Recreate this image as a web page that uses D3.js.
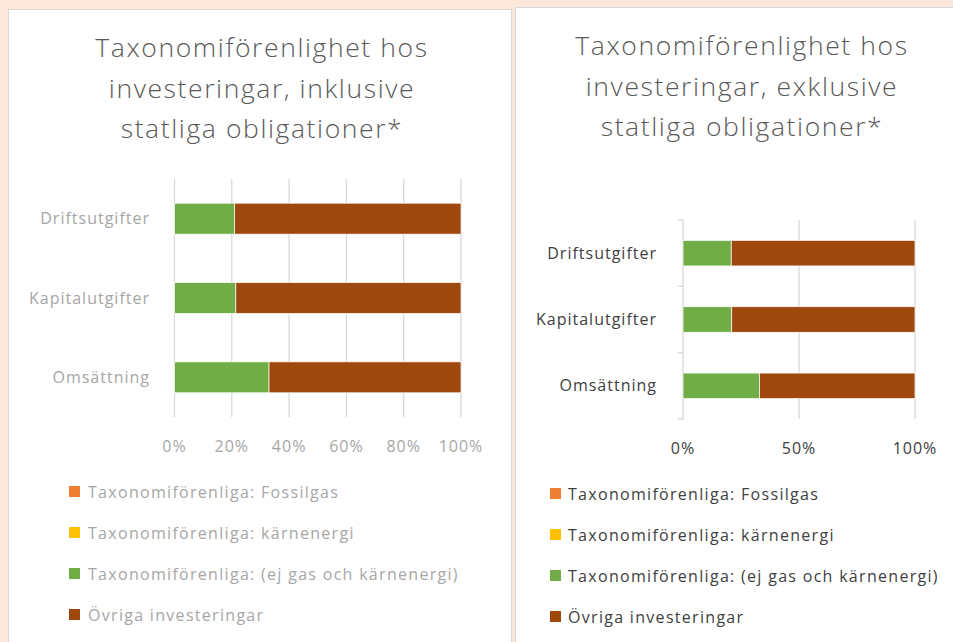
<!DOCTYPE html>
<html>
<head>
<meta charset="utf-8">
<script src="https://cdn.jsdelivr.net/npm/d3@7"></script>
<style>
  body { margin: 0; background: #fce8da; }
  svg { display: block; font-family: "Open Sans", sans-serif; }
</style>
</head>
<body>
<div id="wrapper"></div>
<script>
// data
const categories = ["Driftsutgifter", "Kapitalutgifter", "Omsättning"];
const seriesNames = [
    "Taxonomiförenliga: Fossilgas",
    "Taxonomiförenliga: kärnenergi",
    "Taxonomiförenliga: (ej gas och kärnenergi)",
    "Övriga investeringar"
];
const seriesColors = ["#ed7d31", "#ffc000", "#70ad47", "#9e480e"];

// inklusive statliga obligationer (percent)
const inklFossilgas = [0, 0, 0];
const inklKarnenergi = [0, 0, 0];
const inklEjGasKarn = [21, 21.4, 33];
const inklOvriga = [79, 78.6, 67];

// exklusive statliga obligationer (percent)
const exklFossilgas = [0, 0, 0];
const exklKarnenergi = [0, 0, 0];
const exklEjGasKarn = [20.8, 21, 33];
const exklOvriga = [79.2, 79, 67];

const inklTicks = [0, 20, 40, 60, 80, 100];
const exklTicks = [0, 50, 100];

const width = 953;
const height = 642;

const svg = d3.select("#wrapper")
    .append("svg")
    .attr("width", width)
    .attr("height", height);

function drawPanel(opt) {
    const g = svg.append("g");

    g.append("rect")
        .attr("x", opt.box[0])
        .attr("y", opt.box[1])
        .attr("width", opt.box[2])
        .attr("height", opt.box[3])
        .attr("fill", "white")
        .attr("stroke", "#d9d9d9");

    // title
    g.append("text")
        .attr("text-anchor", "middle")
        .attr("fill", "#595959")
        .style("font-size", "26.5px")
        .style("font-weight", 300)
        .style("letter-spacing", "1.6px")
        .selectAll("tspan")
        .data(opt.title)
        .join("tspan")
        .attr("x", opt.titleX)
        .attr("y", (d, i) => opt.titleY + i * 40.5)
        .text(d => d);

    const rows = categories.map((c, i) => {
        const row = { category: c };
        opt.series.forEach((s, j) => row[seriesNames[j]] = s[i]);
        return row;
    });
    const stacked = d3.stack().keys(seriesNames)(rows);

    const xScale = d3.scaleLinear()
        .domain([0, 100])
        .range(opt.xRange);
    const yScale = d3.scaleBand()
        .domain(categories)
        .range(opt.yRange)
        .paddingInner(opt.padding)
        .paddingOuter(opt.padding / 2);

    // gridlines
    g.append("g")
        .selectAll("line")
        .data(opt.ticks.filter(t => opt.gridAtZero || t > 0))
        .join("line")
        .attr("x1", d => xScale(d))
        .attr("x2", d => xScale(d))
        .attr("y1", opt.yRange[0])
        .attr("y2", opt.yRange[1])
        .attr("stroke", "#d9d9d9")
        .attr("stroke-width", 1.3);

    // category axis with tick marks (right chart only)
    if (opt.categoryAxis) {
        const ax = g.append("g")
            .attr("transform", `translate(${opt.xRange[0]},0)`)
            .call(d3.axisLeft(yScale).tickSize(0).tickFormat(""));
        ax.select(".domain").attr("stroke", "#d9d9d9").attr("stroke-width", 1.3)
            .attr("d", `M-5,${opt.yRange[0]}H0V${opt.yRange[1]}H-5`);
        const bounds = categories.slice(1).map(c => yScale(c) - yScale.step() * yScale.paddingInner() / 2);
        ax.selectAll(".sep")
            .data(bounds)
            .join("line")
            .attr("class", "sep")
            .attr("x1", -5).attr("x2", 0)
            .attr("y1", d => d).attr("y2", d => d)
            .attr("stroke", "#d9d9d9").attr("stroke-width", 1.3);
    }

    // bars
    g.append("g")
        .selectAll("g")
        .data(stacked)
        .join("g")
        .attr("fill", (d, i) => seriesColors[i])
        .selectAll("rect")
        .data(d => d.filter(v => v[1] - v[0] > 0))
        .join("rect")
        .attr("x", d => xScale(d[0]))
        .attr("width", d => xScale(d[1]) - xScale(d[0]))
        .attr("y", d => yScale(d.data.category))
        .attr("height", yScale.bandwidth())
        .attr("stroke", "white")
        .attr("stroke-width", 0.7);

    // category labels
    g.append("g")
        .selectAll("text")
        .data(categories)
        .join("text")
        .attr("x", opt.labelX)
        .attr("y", d => yScale(d) + yScale.bandwidth() / 2)
        .attr("dy", "0.35em")
        .attr("text-anchor", "end")
        .attr("fill", opt.labelColor)
        .style("font-size", "16px")
        .style("letter-spacing", "1px")
        .text(d => d);

    // value axis labels
    g.append("g")
        .selectAll("text")
        .data(opt.ticks)
        .join("text")
        .attr("x", d => xScale(d))
        .attr("y", opt.tickY)
        .attr("dy", "0.35em")
        .attr("text-anchor", "middle")
        .attr("fill", opt.labelColor)
        .style("font-size", "16px")
        .style("letter-spacing", "1px")
        .text(d => `${d}%`);

    // legend
    const legend = g.append("g")
        .selectAll("g")
        .data(seriesNames)
        .join("g")
        .attr("transform", (d, i) => `translate(${opt.legendX},${opt.legendY + i * opt.legendStep})`);
    legend.append("rect")
        .attr("x", 0)
        .attr("y", -6)
        .attr("width", 11)
        .attr("height", 11)
        .attr("fill", (d, i) => seriesColors[i]);
    legend.append("text")
        .attr("x", opt.legendTextDx)
        .attr("dy", "0.35em")
        .attr("fill", opt.labelColor)
        .style("font-size", "16px")
        .style("letter-spacing", "1.3px")
        .text(d => d);
}

drawPanel({
    box: [8.5, 9.5, 503, 640],
    title: ["Taxonomiförenlighet hos", "investeringar, inklusive", "statliga obligationer*"],
    titleX: 262,
    titleY: 57,
    series: [inklFossilgas, inklKarnenergi, inklEjGasKarn, inklOvriga],
    ticks: inklTicks,
    xRange: [174.5, 461],
    yRange: [179, 417],
    padding: 0.61,
    gridAtZero: true,
    categoryAxis: false,
    labelX: 150,
    labelColor: "#a6a6a6",
    tickY: 446,
    legendX: 69,
    legendY: 492,
    legendStep: 41,
    legendTextDx: 19
});

drawPanel({
    box: [515.5, 7.5, 445, 642],
    title: ["Taxonomiförenlighet hos", "investeringar, exklusive", "statliga obligationer*"],
    titleX: 742,
    titleY: 55,
    series: [exklFossilgas, exklKarnenergi, exklEjGasKarn, exklOvriga],
    ticks: exklTicks,
    xRange: [683, 915],
    yRange: [220, 419],
    padding: 0.615,
    gridAtZero: false,
    categoryAxis: true,
    labelX: 657,
    labelColor: "#404040",
    tickY: 448,
    legendX: 550,
    legendY: 494,
    legendStep: 41,
    legendTextDx: 18
});
</script>
</body>
</html>
